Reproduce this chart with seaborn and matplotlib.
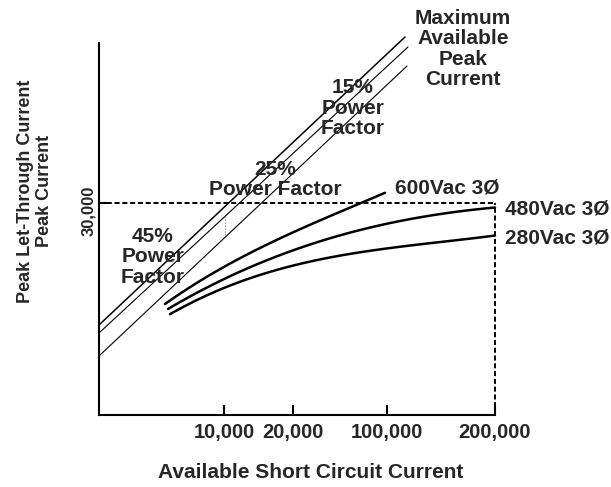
import matplotlib
matplotlib.use("Agg")
import matplotlib.pyplot as plt
from matplotlib.transforms import ScaledTranslation
import seaborn as sns
import pandas as pd

# ---- schematic data (chart units: x = position along the current axis, y = peak current position) ----
x_tick_pos = [125, 194, 288, 396]
x_tick_labels = ["10,000", "20,000", "100,000", "200,000"]
y_tick_pos = [212]
y_tick_labels = ["30,000"]

# straight reference lines (start / end)
line_max_x = [0, 306]
line_max_y = [90, 378]
line_15_x = [0, 309]
line_15_y = [82, 368]
line_25_x = [0, 308]
line_25_y = [59, 349]

# let-through curves
v600_x = [66, 106, 156, 201, 251, 286]
v600_y = [111, 137, 165, 185, 208, 222]
v480_x = [69, 106, 156, 201, 251, 284, 311, 331, 396]
v480_y = [105, 128, 151, 165, 182, 190, 197, 200, 207]
v280_x = [71, 106, 156, 201, 251, 284, 311, 331, 396]
v280_y = [100, 120, 139, 150, 161, 165, 170, 173, 179]

limit_x = 396
limit_y = 212

sns.set_theme(style="white")
plt.rcParams["font.family"] = ["Liberation Sans", "DejaVu Sans"]
plt.rcParams["font.weight"] = "bold"

fig = plt.figure(figsize=(6.11, 4.87), dpi=100)
ax = fig.add_axes([99 / 611, (487 - 415) / 487, 396 / 611, 372 / 487])

# straight lines
for xs, ys, lw in [(line_max_x, line_max_y, 1.1), (line_15_x, line_15_y, 0.8), (line_25_x, line_25_y, 0.8)]:
    df = pd.DataFrame({"x": xs, "y": ys})
    sns.lineplot(data=df, x="x", y="y", ax=ax, color="black", lw=lw, clip_on=False)

# curves (smooth fitted through the read points)
for xs, ys in [(v600_x, v600_y), (v480_x, v480_y), (v280_x, v280_y)]:
    df = pd.DataFrame({"x": xs, "y": ys})
    sns.regplot(data=df, x="x", y="y", ax=ax, order=3, ci=None, scatter=False, truncate=True,
                line_kws=dict(color="black", lw=1.8, clip_on=False))

ax.set_xlim(0, 396)
ax.set_ylim(0, 372)

# dashed limit lines
ax.plot([0, limit_x], [limit_y, limit_y], color="black", lw=1.4, ls=(0, (2.6, 1.4)), clip_on=False)
ax.plot([limit_x, limit_x], [0, limit_y], color="black", lw=1.4, ls=(0, (2.6, 1.4)), clip_on=False)

# small hatch mark
ax.plot([126, 126], [180, 198], color="gray", lw=0.8, ls=":")

# spines
for s in ["top", "right"]:
    ax.spines[s].set_visible(False)
for s in ["left", "bottom"]:
    ax.spines[s].set_color("black")
    ax.spines[s].set_linewidth(1.5)

ax.set_xticks(x_tick_pos)
ax.set_xticklabels(x_tick_labels, fontsize=14.5, fontweight="bold")
ax.set_yticks(y_tick_pos)
ax.set_yticklabels(y_tick_labels, fontsize=12, fontweight="bold", rotation=90, va="center")
ax.tick_params(axis="x", direction="in", length=7, width=1.5, color="black", pad=6, bottom=True)
ax.tick_params(axis="y", direction="in", length=6, width=1.5, color="black", pad=2, left=True)
for lab in ax.get_yticklabels():
    lab.set_transform(lab.get_transform() + ScaledTranslation(0, -8 / 100, fig.dpi_scale_trans))

ax.set_xlabel("Available Short Circuit Current", fontsize=15, fontweight="bold", va="center")
ax.xaxis.set_label_coords((311 - 99) / 396, (415 - 473) / 372)
ax.set_ylabel("Peak Let-Through Current\nPeak Current", fontsize=13, fontweight="bold",
              va="center", ha="center", linespacing=1.12)
ax.yaxis.set_label_coords((35 - 99) / 396, (415 - 191) / 372)

tkw = dict(fontsize=15, fontweight="bold", ha="center", va="center", linespacing=1.08,
           multialignment="center", clip_on=False)
ax.text(364, 366, "Maximum\nAvailable\nPeak\nCurrent", **tkw)
ax.text(254, 307, "15%\nPower\nFactor", **tkw)
ax.text(176, 235.5, "25%\nPower Factor", **tkw)
ax.text(54, 158, "45%\nPower\nFactor", **tkw)

lkw = dict(fontsize=15, fontweight="bold", ha="left", va="center", clip_on=False)
ax.text(296, 227, "600Vac 3Ø", **lkw)
ax.text(406, 206, "480Vac 3Ø", **lkw)
ax.text(406, 177, "280Vac 3Ø", **lkw)

ax.set_xlabel
fig.savefig("out.png", dpi=100)
